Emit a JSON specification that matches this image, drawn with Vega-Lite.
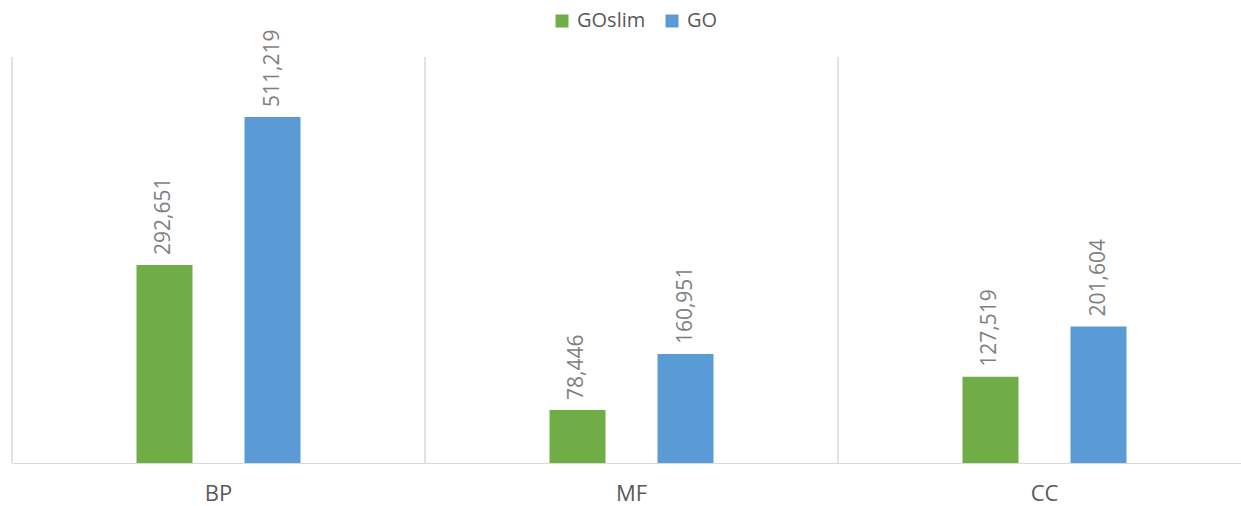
{
  "$schema": "https://vega.github.io/schema/vega-lite/v6.json",
  "autosize": {"type": "none"},
  "width": 1229,
  "height": 406,
  "padding": {"left": 12, "top": 57, "right": 0, "bottom": 43},
  "background": "white",
  "config": {
    "view": {"stroke": null},
    "font": "Open Sans"
  },
  "data": {
    "values": [
      {"cat": "BP", "type": "GOslim", "value": 292651},
      {"cat": "BP", "type": "GO", "value": 511219},
      {"cat": "MF", "type": "GOslim", "value": 78446},
      {"cat": "MF", "type": "GO", "value": 160951},
      {"cat": "CC", "type": "GOslim", "value": 127519},
      {"cat": "CC", "type": "GO", "value": 201604}
    ]
  },
  "encoding": {
    "x": {
      "field": "cat",
      "type": "nominal",
      "sort": ["BP", "MF", "CC"],
      "scale": {"range": [0, 1239], "paddingInner": 0, "paddingOuter": 0},
      "axis": {
        "title": null,
        "labelAngle": 0,
        "ticks": false,
        "grid": false,
        "domainColor": "#d9d9d9",
        "domainWidth": 1,
        "labelFontSize": 22,
        "labelColor": "#595959",
        "labelPadding": 20,
        "labelFont": "Open Sans"
      }
    }
  },
  "layer": [
    {
      "mark": {"type": "rule", "color": "#d9d9d9", "strokeWidth": 1},
      "encoding": {
        "x": {"field": "cat", "type": "nominal", "sort": ["BP", "MF", "CC"], "bandPosition": 0}
      }
    },
    {
      "mark": {"type": "bar", "width": 56},
      "encoding": {
        "xOffset": {
          "field": "type",
          "type": "nominal",
          "sort": ["GOslim", "GO"],
          "scale": {"paddingInner": 0, "paddingOuter": 0.912}
        },
        "y": {
          "field": "value",
          "type": "quantitative",
          "scale": {"domain": [0, 600000]},
          "axis": null
        },
        "color": {
          "field": "type",
          "type": "nominal",
          "sort": ["GOslim", "GO"],
          "scale": {"domain": ["GOslim", "GO"], "range": ["#70ad47", "#5b9bd5"]},
          "legend": {
            "title": null,
            "orient": "none",
            "direction": "horizontal",
            "legendX": 540,
            "legendY": -46,
            "symbolType": "square",
            "symbolSize": 169,
            "symbolStrokeWidth": 0,
            "labelFontSize": 20,
            "labelColor": "#595959",
            "labelFont": "Open Sans",
            "columnPadding": 16,
            "labelOffset": 5
          }
        }
      }
    },
    {
      "mark": {
        "type": "text",
        "angle": 270,
        "align": "left",
        "baseline": "middle",
        "dx": 10,
        "fontSize": 21,
        "color": "#7f7f7f",
        "font": "Open Sans"
      },
      "encoding": {
        "xOffset": {"field": "type", "type": "nominal", "sort": ["GOslim", "GO"]},
        "y": {"field": "value", "type": "quantitative"},
        "text": {"field": "value", "type": "quantitative", "format": ","}
      }
    }
  ]
}
